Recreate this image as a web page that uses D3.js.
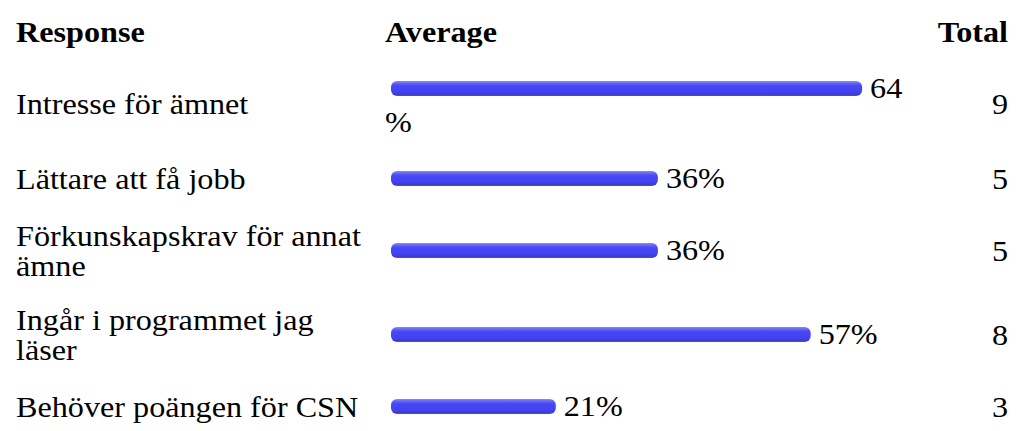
<!DOCTYPE html>
<html>
<head>
<meta charset="utf-8">
<script src="https://cdn.jsdelivr.net/npm/d3@7"></script>
<style>
html,body{margin:0;padding:0;background:#fff;overflow:hidden}
svg{display:block}
</style>
</head>
<body>
<svg id="chart"></svg>
<script>
var headers = ["Response","Average","Total"];
var responses = ["Intresse för ämnet","Lättare att få jobb","Förkunskapskrav för annat ämne","Ingår i programmet jag läser","Behöver poängen för CSN"];
var averages = [64.3, 35.7, 35.7, 57.1, 21.4];
var totals = [9, 5, 5, 8, 3];

var width = 1024, height = 431;
var sx = 1.11; // the picture is a little stretched sideways
var W = width/sx;
function px(v){ return v/sx; }

var svg = d3.select("#chart")
	.attr("width",width).attr("height",height)
	.attr("viewBox","0 0 "+W+" "+height)
	.attr("preserveAspectRatio","none")
	.attr("font-family","'Liberation Serif', serif")
	.attr("font-size",29)
	.attr("fill","#000");

var grad = svg.append("defs").append("linearGradient")
	.attr("id","bargrad").attr("x1",0).attr("y1",0).attr("x2",0).attr("y2",1);
[[0,"#8a8cf0"],[0.15,"#6366f2"],[0.32,"#4747f7"],[0.72,"#4343f3"],[0.88,"#3c3cd2"],[1,"#5151a6"]]
	.forEach(function(s){ grad.append("stop").attr("offset",s[0]).attr("stop-color",s[1]); });

// columns (screen pixels turned into drawing units)
var colResp = px(16), colAvg = px(385), colTotal = px(1008);
var labelMax = px(355), avgRight = px(915);
var barLeft = colAvg + px(6), cap = px(12), gap = px(8);
var lineH = 30, barLineH = 36, pad = 12, base = 23, barBase = 25, barH = 15, barDrop = 2;

var x = d3.scaleLinear().domain([0,100]).range([0,px(714)]);
var fmt = d3.format(".0f");

var probe = svg.append("text").attr("visibility","hidden");
function tw(s){ probe.text(s); return probe.node().getComputedTextLength(); }

function wrap(s,maxw){
	var words = s.split(" "), lines = [], cur = "";
	words.forEach(function(w){
		var t = cur ? cur+" "+w : w;
		if(cur && tw(t) > maxw){ lines.push(cur); cur = w; } else cur = t;
	});
	lines.push(cur);
	return lines;
}

var rows = responses.map(function(r,i){
	var v = averages[i], num = fmt(v);
	var end = barLeft + x(v) + cap;
	var avgLines = (end + gap + tw(num+"%") > avgRight) ? [num,"%"] : [num+"%"];
	var lines = wrap(r,labelMax);
	var h = 2*pad + Math.max(lines.length*lineH, barLineH + (avgLines.length-1)*lineH);
	return {label:r, lines:lines, value:v, end:end, avgLines:avgLines, total:totals[i], h:h};
});
probe.remove();

// header row
var headTop = 7, headH = 2*pad + lineH;
var headBase = headTop + pad + base;
svg.append("g").selectAll("text").data(headers).enter().append("text")
	.attr("x",function(d,i){ return [colResp,colAvg,colTotal][i]; })
	.attr("y",headBase)
	.attr("text-anchor",function(d,i){ return i==2 ? "end" : "start"; })
	.attr("font-weight","bold")
	.text(function(d){ return d; });

var rowY = headTop + headH;
rows.forEach(function(d){ d.top = rowY; d.c = rowY + d.h/2; rowY += d.h; });

var row = svg.append("g").selectAll(".row").data(rows).enter().append("g").attr("class","row");

// response labels
row.each(function(d){
	var g = d3.select(this);
	var t0 = d.c - d.lines.length*lineH/2;
	g.selectAll(".lab").data(d.lines).enter().append("text").attr("class","lab")
		.attr("x",colResp)
		.attr("y",function(l,k){ return t0 + base + k*lineH; })
		.text(function(l){ return l; });
});

// bars and percent labels
row.each(function(d){
	var g = d3.select(this);
	var ch = barLineH + (d.avgLines.length-1)*lineH;
	var t0 = d.c - ch/2, bl = t0 + barBase;
	g.append("rect")
		.attr("x",barLeft).attr("y",bl - barDrop - barH)
		.attr("width",x(d.value) + cap).attr("height",barH)
		.attr("rx",px(6)).attr("ry",6)
		.style("fill","url(#bargrad)");
	g.selectAll(".pct").data(d.avgLines).enter().append("text").attr("class","pct")
		.attr("x",function(l,k){ return k==0 ? d.end + gap : colAvg; })
		.attr("y",function(l,k){ return k==0 ? bl : t0 + barLineH + (k-1)*lineH + base; })
		.text(function(l){ return l; });
});

// totals
row.append("text")
	.attr("x",colTotal)
	.attr("y",function(d){ return d.c - lineH/2 + base; })
	.attr("text-anchor","end")
	.text(function(d){ return d.total; });
</script>
</body>
</html>
